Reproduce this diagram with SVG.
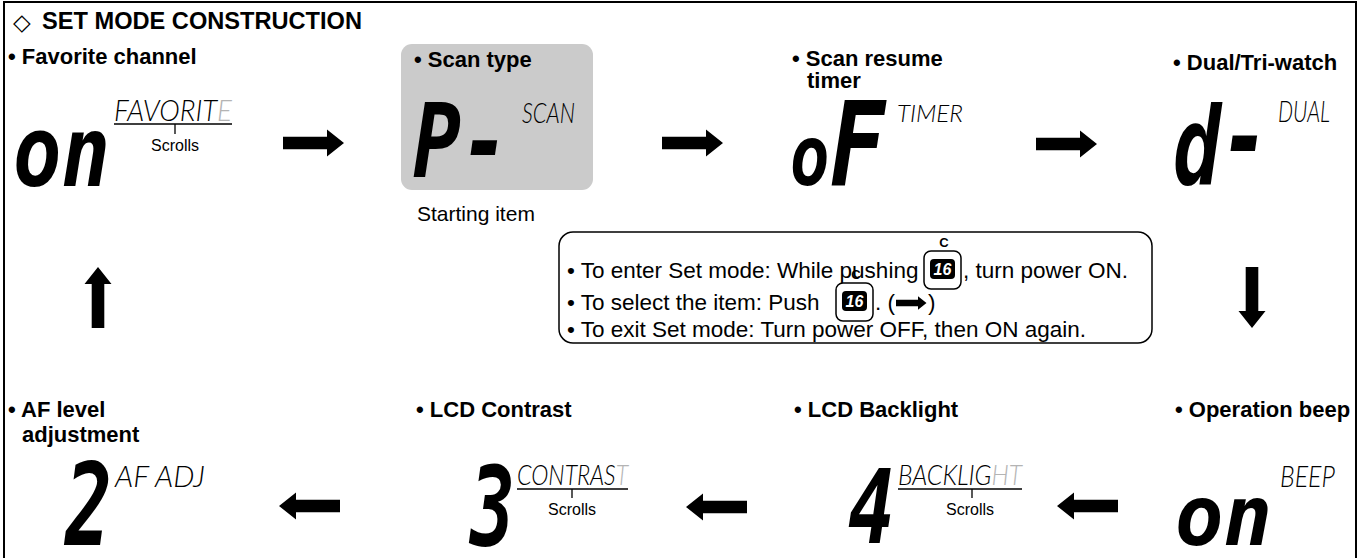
<svg xmlns="http://www.w3.org/2000/svg" width="1365" height="558" viewBox="0 0 1365 558">
<style>
.lbl{font-family:"Liberation Sans",Arial,sans-serif;font-weight:bold;font-size:22px;fill:#000}
.txt{font-family:"Liberation Sans",Arial,sans-serif;font-size:22.5px;fill:#000}
.scr{font-family:"Liberation Sans",Arial,sans-serif;font-size:16px;fill:#000;text-anchor:middle}
.seg{font-family:"DejaVu Sans Mono",monospace;font-weight:bold;font-style:oblique;fill:#000}
.lcd{font-family:Lato,"Liberation Sans Narrow",sans-serif;font-weight:300;font-style:italic;fill:#000}
.dim{fill:#b4b4b4}
.ln{stroke:#000;stroke-width:1.3;fill:none}
.keyo{fill:#fff;stroke:#000;stroke-width:1.5}
.keyi{fill:#000}
.keyt{font-family:"Liberation Sans",Arial,sans-serif;font-weight:bold;font-style:italic;font-size:16px;fill:#fff;text-anchor:middle}
.keyc{font-family:"Liberation Sans",Arial,sans-serif;font-weight:bold;font-size:13px;fill:#000;text-anchor:middle}
</style>
<defs>
<path id="arr" d="M0,-6.3 H44 V-13.5 L61,0 L44,13.5 V6.3 H0 Z" fill="#000"/>
<g id="keyshape">
<rect class="keyo" x="0" y="0" width="37" height="38" rx="7"/>
<rect class="keyi" x="6" y="8" width="25" height="20" rx="4"/>
</g>
</defs>
<rect width="1365" height="558" fill="#fff"/>
<path d="M4,560 V2 H1356 V560" fill="none" stroke="#000" stroke-width="2"/>

<g id="title">
<text x="13" y="30" style="font-family:'DejaVu Sans',sans-serif;font-size:23px;font-weight:bold">◇</text>
<text class="lbl" x="42" y="29" style="font-size:23px" textLength="320" lengthAdjust="spacingAndGlyphs">SET MODE CONSTRUCTION</text>
</g>

<g id="n-favorite">
<text class="lbl" x="8" y="64">• Favorite channel</text>
<text class="seg" x="13" y="186" font-size="97" textLength="97" lengthAdjust="spacingAndGlyphs">on</text>
<text class="lcd" x="114" y="121" font-size="29" textLength="118" lengthAdjust="spacingAndGlyphs">FAVORIT<tspan class="dim">E</tspan></text>
<path class="ln" d="M114,124 H232 M175,124 V134"/>
<text class="scr" x="175" y="151">Scrolls</text>
</g>

<g id="n-scantype">
<rect x="401" y="44" width="192" height="146" rx="11" fill="#cbcbcb"/>
<text class="lbl" x="414" y="67">• Scan type</text>
<text class="seg" x="413" y="177" font-size="103" textLength="96" lengthAdjust="spacingAndGlyphs">P-</text>
<text class="lcd" x="522" y="123" font-size="28" textLength="53" lengthAdjust="spacingAndGlyphs">SCAN</text>
<text class="txt" x="417" y="221" style="font-size:21px">Starting item</text>
</g>

<g id="n-scanresume">
<text class="lbl" x="792" y="66">• Scan resume<tspan x="807" y="88">timer</tspan></text>
<text class="seg" x="790" y="185" textLength="95" lengthAdjust="spacingAndGlyphs"><tspan font-size="83">o</tspan><tspan font-size="117">F</tspan></text>
<text class="lcd" x="897" y="122" font-size="24" textLength="66" lengthAdjust="spacingAndGlyphs">TIMER</text>
</g>

<g id="n-dual">
<text class="lbl" x="1173" y="70">• Dual/Tri-watch</text>
<text class="seg" x="1173" y="185" font-size="108" textLength="96" lengthAdjust="spacingAndGlyphs">d<tspan dy="-10">-</tspan></text>
<text class="lcd" x="1278" y="122" font-size="30" textLength="52" lengthAdjust="spacingAndGlyphs">DUAL</text>
</g>

<g id="n-beep">
<text class="lbl" x="1175" y="417">• Operation beep</text>
<text class="seg" x="1175" y="545" font-size="83" textLength="97" lengthAdjust="spacingAndGlyphs">on</text>
<text class="lcd" x="1280" y="487" font-size="30" textLength="55" lengthAdjust="spacingAndGlyphs">BEEP</text>
</g>

<g id="n-backlight">
<text class="lbl" x="794" y="417">• LCD Backlight</text>
<text class="seg" x="848" y="543" font-size="104" textLength="47" lengthAdjust="spacingAndGlyphs">4</text>
<text class="lcd" x="898" y="485" font-size="28" textLength="124" lengthAdjust="spacingAndGlyphs">BACKLIG<tspan class="dim">HT</tspan></text>
<path class="ln" d="M898,489 H1022 M972,489 V498"/>
<text class="scr" x="970" y="515">Scrolls</text>
</g>

<g id="n-contrast">
<text class="lbl" x="416" y="417">• LCD Contrast</text>
<text class="seg" x="470" y="545" font-size="111" textLength="45" lengthAdjust="spacingAndGlyphs">3</text>
<text class="lcd" x="517" y="485" font-size="28" textLength="111" lengthAdjust="spacingAndGlyphs">CONTRAS<tspan class="dim">T</tspan></text>
<path class="ln" d="M517,489 H628 M572,489 V498"/>
<text class="scr" x="572" y="515">Scrolls</text>
</g>

<g id="n-af">
<text class="lbl" x="8" y="417">• AF level<tspan x="22" y="442">adjustment</tspan></text>
<text class="seg" x="65" y="545" font-size="113" textLength="47" lengthAdjust="spacingAndGlyphs">2</text>
<text class="lcd" x="115" y="487" font-size="30" textLength="90" lengthAdjust="spacingAndGlyphs">AF ADJ</text>
</g>

<g id="info">
<rect x="559" y="232" width="593" height="111" rx="14" fill="#fff" stroke="#000" stroke-width="1.5"/>
<text class="txt" x="567" y="278">• To enter Set mode: While pushing</text>
<use href="#keyshape" x="924" y="251"/>
<text class="keyt" x="942.5" y="275">16</text>
<text class="keyc" x="944" y="247">C</text>
<text class="txt" x="963" y="278">, turn power ON.</text>
<text class="txt" x="567" y="310">• To select the item: Push</text>
<use href="#keyshape" x="836" y="283"/>
<text class="keyt" x="854.5" y="307">16</text>
<text class="keyc" x="856" y="279">C</text>
<text class="txt" x="875" y="310">. (</text>
<use href="#arr" transform="translate(896,303) scale(0.5)"/>
<text class="txt" x="928" y="310">)</text>
<text class="txt" x="567" y="337">• To exit Set mode: Turn power OFF, then ON again.</text>
</g>

<g id="connectors">
<use href="#arr" transform="translate(283,143)"/>
<use href="#arr" transform="translate(662,143)"/>
<use href="#arr" transform="translate(1036,144)"/>
<use href="#arr" transform="translate(1252,267) rotate(90)"/>
<use href="#arr" transform="translate(1118,506) rotate(180)"/>
<use href="#arr" transform="translate(747,507) rotate(180)"/>
<use href="#arr" transform="translate(340,506) rotate(180)"/>
<use href="#arr" transform="translate(98,328) rotate(-90)"/>
</g>
</svg>
